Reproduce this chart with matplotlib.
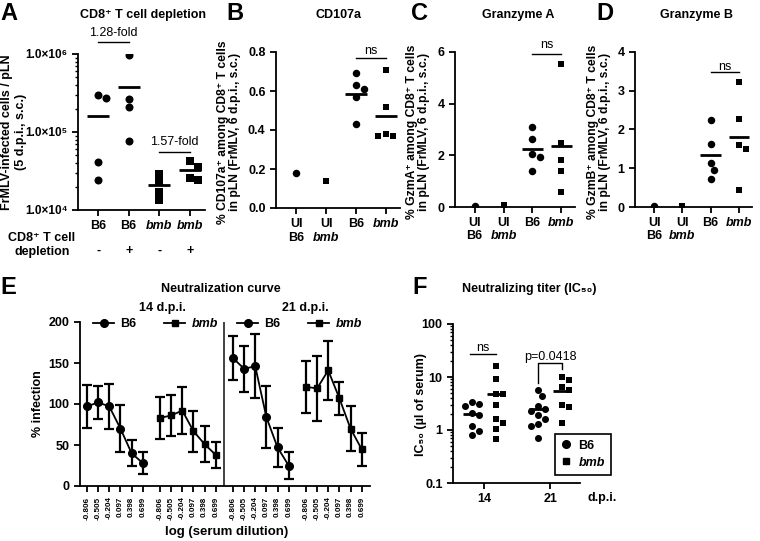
import numpy as np
import matplotlib
matplotlib.use('Agg')
import matplotlib.pyplot as plt
from matplotlib.lines import Line2D
from matplotlib.ticker import LogLocator, NullFormatter

# ---- data ----
# A: FrMLV-infected cells / pLN
a_groups = ['B6', 'B6', 'bmb', 'bmb']
a_depl = ['-', '+', '-', '+']
a_b6_minus = [2.95e5, 2.75e5, 4.1e4, 2.45e4]
a_b6_plus = [9.7e5, 2.65e5, 2.1e5, 7.7e4]
a_bmb_minus = [2.9e4, 2.3e4, 1.7e4, 1.35e4]
a_bmb_plus = [4.25e4, 3.55e4, 2.6e4, 2.45e4]

# B-D: UI B6, UI bmb, B6, bmb
bcd_top = ['UI', 'UI', 'B6', 'bmb']
bcd_bottom = ['B6', 'bmb', '', '']
b_ui_b6 = [0.18]
b_ui_bmb = [0.14]
b_b6 = [0.69, 0.63, 0.61, 0.57, 0.43]
b_bmb = [0.71, 0.52, 0.38, 0.37, 0.37]

c_ui_b6 = [0.02]
c_ui_bmb = [0.06]
c_b6 = [3.1, 2.65, 2.05, 1.95, 1.4]
c_bmb = [5.55, 2.48, 1.83, 1.41, 0.58]

d_ui_b6 = [0.02]
d_ui_bmb = [0.03]
d_b6 = [2.24, 1.62, 1.14, 0.96, 0.73]
d_bmb = [3.23, 2.28, 1.61, 1.5, 0.45]

# E: neutralization curve (mean, error)
dilutions = ['-0.806', '-0.505', '-0.204', '0.097', '0.398', '0.699']
e_b6_14 = [97, 102, 97, 70, 40, 28]
e_b6_14_err = [26, 20, 27, 29, 16, 13]
e_bmb_14 = [83, 86, 92, 67, 51, 38]
e_bmb_14_err = [26, 25, 29, 25, 22, 16]
e_b6_21 = [156, 143, 146, 84, 47, 25]
e_b6_21_err = [27, 28, 39, 38, 24, 17]
e_bmb_21 = [121, 119, 141, 107, 70, 45]
e_bmb_21_err = [32, 40, 36, 20, 27, 20]

# F: IC50
f_days = ['14', '21']
f_b6_14 = [3.4, 3.1, 2.8, 2.1, 1.9, 1.2, 0.95, 0.8]
f_bmb_14 = [16.3, 9.1, 4.7, 4.7, 2.9, 1.6, 1.34, 1.05, 0.68]
f_b6_21 = [5.7, 4.4, 2.8, 2.5, 2.3, 1.9, 1.6, 1.3, 1.2, 0.7]
f_bmb_21 = [10.1, 8.8, 6.6, 5.8, 2.9, 2.7, 1.37]

# ---- setup ----
plt.rcParams['font.family'] = ['Liberation Sans', 'DejaVu Sans']
plt.rcParams['font.weight'] = 'bold'
plt.rcParams['font.size'] = 9
plt.rcParams['axes.linewidth'] = 1.3

W, H = 760, 541
fig = plt.figure(figsize=(7.6, 5.41), dpi=100)


def px_axes(x0, y0, x1, y1):
    return fig.add_axes([x0 / W, 1 - y1 / H, (x1 - x0) / W, (y1 - y0) / H])


def ftext(x, y, s, **kw):
    kw.setdefault('ha', 'center')
    kw.setdefault('va', 'center')
    fig.text(x / W, 1 - y / H, s, **kw)


def style(ax):
    for s in ('top', 'right'):
        ax.spines[s].set_visible(False)
    ax.tick_params(direction='out', length=4, width=1.3, labelsize=9)
    ax.tick_params(which='minor', direction='out', length=2, width=1)


def swarm_x(ax, xc, vals, d):
    # simple beeswarm in pixel space
    pts = ax.transData.transform(np.column_stack([np.full(len(vals), xc), vals]))
    order = np.argsort(-pts[:, 1])
    placed = []
    xs = np.zeros(len(vals))
    for i in order:
        y = pts[i, 1]
        for k in [0, 0.5, -0.5, 1, -1, 1.5, -1.5, 2, -2]:
            x = pts[i, 0] + k * d
            if all((x - px) ** 2 + (y - py) ** 2 >= (0.95 * d) ** 2 for px, py in placed):
                break
        placed.append((x, y))
        xs[i] = ax.transData.inverted().transform((x, y))[0]
    return xs


def dots(ax, xc, vals, marker, d=8, hw=0.36, mean=True):
    xs = swarm_x(ax, xc, vals, d)
    ms = d * 0.72
    ax.scatter(xs, vals, marker=marker, s=(ms if marker == 'o' else ms * 0.9) ** 2,
               color='black', linewidths=0, zorder=3)
    if mean:
        ax.hlines(np.mean(vals), xc - hw, xc + hw, color='black', lw=2, zorder=4)


def bracket(ax, x0, x1, y, ty, label):
    ax.plot([x0, x1], [y, y], color='black', lw=1, clip_on=False)
    ax.text((x0 + x1) / 2, ty, label, ha='center', va='center',
            fontweight='normal', fontsize=9, clip_on=False)


# ---- A ----
axA = px_axes(78, 54, 205, 210)
style(axA)
axA.set_yscale('log')
axA.set_ylim(1e4, 1e6)
axA.set_xlim(-0.66, 3.5)
axA.set_yticks([1e4, 1e5, 1e6])
axA.set_yticklabels(['1.0×10⁴', '1.0×10⁵', '1.0×10⁶'], fontsize=8.5)
axA.yaxis.set_minor_locator(LogLocator(subs=range(2, 10)))
axA.yaxis.set_minor_formatter(NullFormatter())
axA.set_xticks(range(4))
axA.set_xticklabels(a_groups)
for t in axA.get_xticklabels()[2:]:
    t.set_style('italic')
for i, vals in enumerate([a_b6_minus, a_b6_plus, a_bmb_minus, a_bmb_plus]):
    dots(axA, i, vals, 'o' if i < 2 else 's')
for i, s in enumerate(a_depl):
    axA.text(i, -0.26, s, transform=axA.get_xaxis_transform(), ha='center', va='center')
bracket(axA, 0, 1, 1.43e6, 1.86e6, '1.28-fold')
bracket(axA, 2, 3, 5.5e4, 7.4e4, '1.57-fold')
ftext(42, 245, 'CD8⁺ T cell\ndepletion', linespacing=1.2)
ftext(14, 132, 'FrMLV-infected cells / pLN\n(5 d.p.i., s.c.)', rotation=90, linespacing=1.15)
ftext(143, 15, 'CD8⁺ T cell depletion')


# ---- B, C, D ----
def cat_panel(box, ylim, yticks, fmt, sets, ns_y, ns_ty, ylabel, lx, title, tx):
    ax = px_axes(*box)
    style(ax)
    ax.set_ylim(*ylim)
    ax.set_xlim(-0.68, 3.47)
    ax.set_yticks(yticks)
    ax.set_yticklabels([fmt.format(v) for v in yticks])
    ax.set_xticks(range(4))
    ax.set_xticklabels(bcd_top)
    ax.get_xticklabels()[3].set_style('italic')
    for i, s in enumerate(bcd_bottom):
        if s:
            ax.text(i, -0.19, s, transform=ax.get_xaxis_transform(), ha='center', va='center',
                    style='italic' if s == 'bmb' else 'normal')
    for i, vals in enumerate(sets):
        dots(ax, i, vals, 'o' if i % 2 == 0 else 's', d=7.5, hw=0.36, mean=i >= 2)
    bracket(ax, 2, 3, ns_y, ns_ty, 'ns')
    ftext(lx, 132, ylabel, rotation=90, linespacing=1.05, fontsize=8.7)
    ftext(tx, 15, title)
    return ax


cat_panel((276, 52, 400, 208), (0, 0.8), [0, 0.2, 0.4, 0.6, 0.8], '{:.1f}',
          [b_ui_b6, b_ui_bmb, b_b6, b_bmb], 0.77, 0.805,
          '% CD107a⁺ among CD8⁺ T cells\nin pLN (FrMLV, 6 d.p.i., s.c.)', 229, 'CD107a', 338)
cat_panel((455, 52, 575, 207), (0, 6), [0, 2, 4, 6], '{:.0f}',
          [c_ui_b6, c_ui_bmb, c_b6, c_bmb], 5.93, 6.28,
          '% GzmA⁺ among CD8⁺ T cells\nin pLN (FrMLV, 6 d.p.i., s.c.)', 418, 'Granzyme A', 518)
cat_panel((635, 52, 752, 207), (0, 4), [0, 1, 2, 3, 4], '{:.0f}',
          [d_ui_b6, d_ui_bmb, d_b6, d_bmb], 3.48, 3.62,
          '% GzmB⁺ among CD8⁺ T cells\nin pLN (FrMLV, 6 d.p.i., s.c.)', 599, 'Granzyme B', 697)

# ---- E ----
axE = px_axes(80, 322, 370, 486)
style(axE)
axE.set_ylim(0, 200)
axE.set_yticks([0, 50, 100, 150, 200])
axE.set_xlim(-0.63, 25.4)
step = 6.55
curves = [(e_b6_14, e_b6_14_err, 'o'), (e_bmb_14, e_bmb_14_err, 's'),
          (e_b6_21, e_b6_21_err, 'o'), (e_bmb_21, e_bmb_21_err, 's')]
ticks = []
for g, (m, err, mk) in enumerate(curves):
    x = g * step + np.arange(len(m))
    ticks.extend(x)
    axE.errorbar(x, m, yerr=err, fmt='-' + mk, color='black', ms=5.5 if mk == 'o' else 5,
                 lw=1.3, elinewidth=1.6, capsize=3.5, capthick=1.6, zorder=3)
axE.set_xticks(ticks)
axE.set_xticklabels(dilutions * 4, rotation=90, fontsize=5.8)
axE.axvline((step + 5 + 2 * step) / 2, color='#333333', lw=1.3)
legs = []
for anchor in (0.045, 0.541):
    hs = [Line2D([], [], color='black', marker='o', lw=1.3, ms=5.5),
          Line2D([], [], color='black', marker='s', lw=1.3, ms=5)]
    leg = axE.legend(hs, ['B6', 'bmb'], loc='center left', bbox_to_anchor=(anchor, 0.985),
                     ncol=2, frameon=False, handlelength=1.7, handletextpad=0.5,
                     columnspacing=2.2, borderpad=0, borderaxespad=0, fontsize=9)
    leg.get_texts()[1].set_style('italic')
    legs.append(leg)
axE.add_artist(legs[0])
ftext(162, 308, '14 d.p.i.')
ftext(305, 308, '21 d.p.i.')
ftext(221, 289, 'Neutralization curve')
ftext(38, 404, '% infection', rotation=90)
ftext(227, 532, 'log (serum dilution)', fontsize=9.5)

# ---- F ----
axF = px_axes(453, 324, 580, 483)
style(axF)
axF.set_yscale('log')
axF.set_ylim(0.1, 100)
axF.set_yticks([0.1, 1, 10, 100])
axF.set_yticklabels(['0.1', '1', '10', '100'])
axF.yaxis.set_minor_locator(LogLocator(subs=range(2, 10)))
axF.yaxis.set_minor_formatter(NullFormatter())
axF.set_xlim(-0.47, 1.45)
axF.set_xticks(range(len(f_days)))
axF.set_xticklabels(f_days)
off = 0.18
for i, (vb6, vbmb) in enumerate([(f_b6_14, f_bmb_14), (f_b6_21, f_bmb_21)]):
    dots(axF, i - off, vb6, 'o', d=7, hw=0.14)
    dots(axF, i + off, vbmb, 's', d=7, hw=0.14)
bracket(axF, -0.21, 0.18, 27, 35, 'ns')
axF.plot([1 - off, 1 - off, 1 + off, 1 + off], [7.7, 18.4, 18.4, 14.2], color='black', lw=1, zorder=2)
axF.text(1, 23.5, 'p=0.0418', ha='center', va='center', fontweight='normal', fontsize=9)
hf = [Line2D([], [], ls='none', marker='o', color='black', ms=5.5),
      Line2D([], [], ls='none', marker='s', color='black', ms=5)]
legF = axF.legend(hf, ['B6', 'bmb'], loc='lower right', bbox_to_anchor=(1.244, 0.05),
                  borderaxespad=0, fancybox=False, edgecolor='black', framealpha=1,
                  handlelength=0.8, handletextpad=0.6, borderpad=0.5, labelspacing=0.4, fontsize=9)
legF.get_frame().set_linewidth(1.2)
legF.get_texts()[1].set_style('italic')
ftext(588, 498, 'd.p.i.', ha='left')
ftext(421, 405, 'IC₅₀ (µl of serum)', rotation=90)
ftext(529, 289, 'Neutralizing titer (IC₅₀)')

# panel letters
for x, y, s in [(0, 14, 'A'), (226, 14, 'B'), (411, 14, 'C'), (596, 14, 'D'),
                (0, 288, 'E'), (412, 288, 'F')]:
    ftext(x, y, s, ha='left', fontsize=17, fontweight='bold')

fig.savefig('out.png', dpi=100)
